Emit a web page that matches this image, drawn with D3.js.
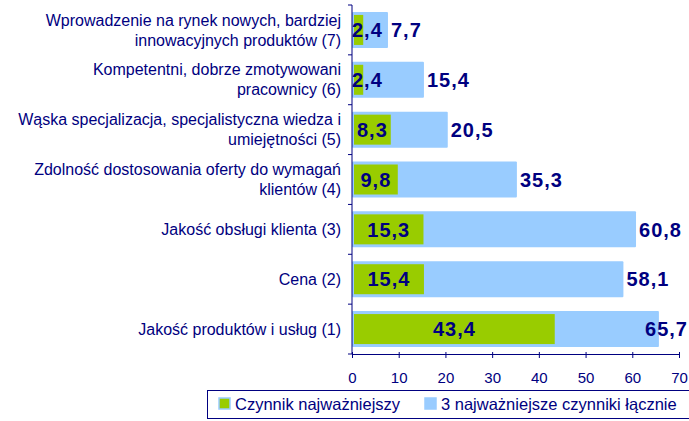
<!DOCTYPE html>
<html>
<head>
<meta charset="utf-8">
<script src="https://cdn.jsdelivr.net/npm/d3@7"></script>
<style>
  body { margin: 0; background: #fff; }
  svg { display: block; font-family: "Liberation Sans", Arial, sans-serif; }
</style>
</head>
<body>
<svg id="chart" width="689" height="421"></svg>
<script>
// categories, top to bottom, already split into lines
const categories = [
  ["Wprowadzenie na rynek nowych, bardziej", "innowacyjnych produktów (7)"],
  ["Kompetentni, dobrze zmotywowani", "pracownicy (6)"],
  ["Wąska specjalizacja, specjalistyczna wiedza i", "umiejętności (5)"],
  ["Zdolność dostosowania oferty do wymagań", "klientów (4)"],
  ["Jakość obsługi klienta (3)"],
  ["Cena (2)"],
  ["Jakość produktów i usług (1)"]
];
const mostImportant = [2.4, 2.4, 8.3, 9.8, 15.3, 15.4, 43.4];
const topThree = [7.7, 15.4, 20.5, 35.3, 60.8, 58.1, 65.7];
const xTicks = [0, 10, 20, 30, 40, 50, 60, 70];
const seriesNames = ["Czynnik najważniejszy", "3 najważniejsze czynniki łącznie"];

const navy = "#000080",
      green = "#99cc00",
      blue = "#99ccff";

const svg = d3.select("#chart");
const fmt = (v) => v.toFixed(1).replace(".", ",");

let x = d3.scaleLinear()
          .domain([0, 70])
          .range([352, 679]);

let y = d3.scaleBand()
          .domain(d3.range(categories.length))
          .range([5, 354]);

// Blue bars (top three)
svg.selectAll(".bar-total")
   .data(topThree)
   .enter().append("rect")
   .attr("class", "bar-total")
   .attr("x", x(0))
   .attr("y", (d, i) => y(i) + y.bandwidth() / 2 - 18)
   .attr("width", (d) => x(d) - x(0))
   .attr("height", 36)
   .attr("rx", 1)
   .style("fill", blue);

// Green bars (most important)
svg.selectAll(".bar-main")
   .data(mostImportant)
   .enter().append("rect")
   .attr("class", "bar-main")
   .attr("x", x(0) + 2)
   .attr("y", (d, i) => y(i) + y.bandwidth() / 2 - 15)
   .attr("width", (d) => x(d) - x(0) - 2)
   .attr("height", 30)
   .style("fill", green);

// Axes
let yAxis = d3.axisLeft(y).tickSize(0).tickFormat("");
svg.append("g")
   .attr("transform", "translate(" + x(0) + ",0)")
   .call(yAxis)
   .call(g => g.select(".domain").attr("stroke", navy).attr("d", "M0,5V354"));

// y ticks at band boundaries
svg.append("g").selectAll("line")
   .data(d3.range(categories.length + 1))
   .enter().append("line")
   .attr("x1", x(0) - 4)
   .attr("x2", x(0))
   .attr("y1", (i) => 5 + i * y.step())
   .attr("y2", (i) => 5 + i * y.step())
   .attr("stroke", navy);

let xAxis = d3.axisBottom(x).tickValues(xTicks).tickSize(4).tickSizeOuter(0);
svg.append("g")
   .attr("transform", "translate(0,354)")
   .call(xAxis)
   .call(g => {
     g.select(".domain").attr("stroke", navy);
     g.selectAll(".tick line").attr("stroke", navy).attr("y1", -2);
     g.selectAll(".tick text")
      .attr("fill", navy)
      .attr("y", 29)
      .attr("dy", null)
      .style("font-size", "15px")
      .style("font-family", "'Liberation Sans', Arial, sans-serif");
   });

// Category labels
let catLabels = svg.append("g").selectAll("text")
   .data(categories)
   .enter().append("text")
   .attr("text-anchor", "end")
   .attr("fill", navy)
   .style("font-size", "16px");

catLabels.each(function(lines, i) {
  let cy = y(i) + y.bandwidth() / 2;
  let start = cy - (lines.length - 1) * 10;
  d3.select(this).selectAll("tspan")
    .data(lines)
    .enter().append("tspan")
    .attr("x", 341)
    .attr("y", (l, j) => start + j * 20)
    .attr("dy", "0.35em")
    .text((l) => l);
});

// Value labels for blue bars
svg.append("g").selectAll("text")
   .data(topThree)
   .enter().append("text")
   .attr("y", (d, i) => y(i) + y.bandwidth() / 2)
   .attr("dy", "0.36em")
   .attr("fill", navy)
   .style("font-size", "20px")
   .style("font-weight", "bold")
   .style("letter-spacing", "1px")
   .text(fmt)
   .attr("x", function(d) {
     let w = this.getComputedTextLength();
     return Math.min(x(d) + 3, 688 - w);
   });

// Value labels for green bars
svg.append("g").selectAll("text")
   .data(mostImportant)
   .enter().append("text")
   .attr("y", (d, i) => y(i) + y.bandwidth() / 2)
   .attr("dy", "0.36em")
   .attr("fill", navy)
   .style("font-size", "20px")
   .style("font-weight", "bold")
   .style("letter-spacing", "1px")
   .text(fmt)
   .attr("x", function(d) {
     let w = this.getComputedTextLength();
     let cx = (x(0) + 2 + x(d)) / 2;
     return Math.max(cx - w / 2, x(0));
   });

// Legend
let legend = svg.append("g");
legend.append("rect")
      .attr("x", 207.5)
      .attr("y", 390.5)
      .attr("width", 500)
      .attr("height", 28)
      .style("fill", "none")
      .style("stroke", navy);

let legendItems = [
  {name: seriesNames[0], color: green, x: 219, tx: 235},
  {name: seriesNames[1], color: blue, x: 425, tx: 441}
];

legendItems.forEach((item) => {
  legend.append("rect")
        .attr("x", item.x)
        .attr("y", 398)
        .attr("width", 11)
        .attr("height", 11)
        .style("fill", item.color)
        .style("stroke", blue)
        .style("stroke-width", 1.5);
  legend.append("text")
        .attr("x", item.tx)
        .attr("y", 404)
        .attr("dy", "0.35em")
        .attr("fill", navy)
        .style("font-size", "16.5px")
        .text(item.name);
});
</script>
</body>
</html>
